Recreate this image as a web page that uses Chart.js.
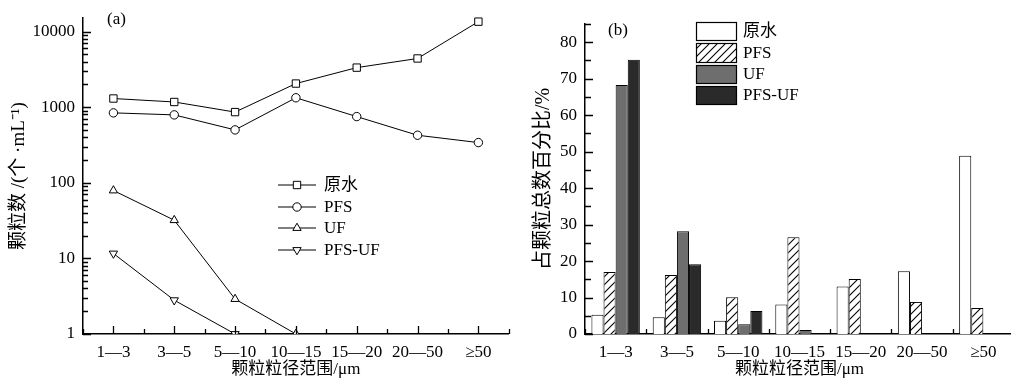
<!DOCTYPE html>
<html><head><meta charset="utf-8">
<script src="https://cdn.jsdelivr.net/npm/chart.js@4/dist/chart.umd.min.js"></script>
<style>
html,body{margin:0;padding:0;background:#fff;overflow:hidden;width:1011px;height:381px;}
#a{position:absolute;left:0;top:0;width:515px;height:381px;}
#b{position:absolute;left:505px;top:0;width:509px;height:381px;}
</style></head><body>
<div id="a"><canvas id="ca"></canvas></div>
<div id="b"><canvas id="cb"></canvas></div>
<script>
// ---- data ----
const categories = ['1—3','3—5','5—10','10—15','15—20','20—50','≥50'];
const seriesNames = ['原水','PFS','UF','PFS-UF'];
const countRaw   = [1300, 1170, 860, 2050, 3330, 4400, 13500];
const countPFS   = [840, 790, 500, 1330, 750, 425, 340];
const countUF    = [79, 32, 2.9, 1, null, null, null];
const countPFSUF = [11.6, 2.8, 1, null, null, null, null];
const logTicks   = [1, 10, 100, 1000, 10000];
const pctRaw   = [5.3, 4.6, 3.6, 8.1, 13.0, 17.2, 48.9];
const pctPFS   = [17.0, 16.2, 10.1, 26.5, 15.1, 8.8, 7.1];
const pctUF    = [68.3, 28.2, 2.7, 1.1, 0, 0, 0];
const pctPFSUF = [75.2, 19.1, 6.3, 0, 0, 0, 0];
const pctTicks = [0, 10, 20, 30, 40, 50, 60, 70, 80];

const FONT = "'Liberation Serif','Noto Sans CJK SC',serif";
Chart.defaults.font.family = FONT;
Chart.defaults.color = '#000';

function markPoint(ctx, style, r, rot, x, y) {
  ctx.save();
  ctx.fillStyle = '#fff'; ctx.strokeStyle = '#000'; ctx.lineWidth = 1;
  if (Chart.helpers && Chart.helpers.drawPoint) {
    Chart.helpers.drawPoint(ctx, {pointStyle: style, radius: r, rotation: rot, borderWidth: 1}, x, y);
  } else {
    ctx.beginPath(); ctx.arc(x, y, r, 0, Math.PI * 2); ctx.fill(); ctx.stroke();
  }
  ctx.restore();
}

const lineStyles = [
  {pointStyle: 'rect', pointRadius: 5.2, pointRotation: 0},
  {pointStyle: 'circle', pointRadius: 4.2, pointRotation: 0},
  {pointStyle: 'triangle', pointRadius: 4.8, pointRotation: 0},
  {pointStyle: 'triangle', pointRadius: 4.8, pointRotation: 180}
];
const countSeries = [countRaw, countPFS, countUF, countPFSUF];

const axesA = {
  id: 'axesA',
  afterDraw(chart) {
    const {ctx} = chart; const x = chart.scales.x, y = chart.scales.y;
    const ca = chart.chartArea;
    ctx.save(); ctx.strokeStyle = '#000'; ctx.lineWidth = 1.3;
    ctx.beginPath();
    for (let d = 0; d <= 4; d++) {
      for (let k = 1; k <= 9; k++) {
        const v = k * Math.pow(10, d);
        if (v > y.max) break;
        const py = Math.round(y.getPixelForValue(v)) + 0.5;
        const len = k === 1 ? 8 : 5;
        ctx.moveTo(ca.left, py); ctx.lineTo(ca.left + len, py);
      }
    }
    for (let i = 0; i < categories.length; i++) {
      const px = Math.round(x.getPixelForValue(i)) + 0.5;
      ctx.moveTo(px, ca.bottom); ctx.lineTo(px, ca.bottom - 8);
    }
    for (let i = 0; i <= categories.length; i++) {
      const px = Math.round(x.getPixelForValue(i - 0.5)) + 0.5;
      ctx.moveTo(px, ca.bottom); ctx.lineTo(px, ca.bottom - 5);
    }
    ctx.stroke();
    ctx.font = '17px ' + FONT; ctx.fillStyle = '#000'; ctx.textBaseline = 'middle';
    const rows = [185, 207, 228, 250];
    chart.data.datasets.forEach((ds, i) => {
      const ly = rows[i];
      ctx.lineWidth = 1; ctx.beginPath(); ctx.moveTo(278, ly); ctx.lineTo(316, ly); ctx.stroke();
      markPoint(ctx, ds.pointStyle, ds.pointRadius, ds.pointRotation, 297, ly);
      ctx.fillStyle = '#000';
      ctx.fillText(ds.label, 324, ly + 1);
    });
    ctx.font = '17px ' + FONT; ctx.fillText('(a)', 107, 20);
    ctx.restore();
  }
};

new Chart(document.getElementById('ca'), {
  type: 'line',
  data: {
    labels: categories,
    datasets: seriesNames.map((n, i) => ({
      label: n,
      data: countSeries[i],
      borderColor: '#000', borderWidth: 1,
      backgroundColor: '#fff', pointBackgroundColor: '#fff', pointBorderColor: '#000', pointBorderWidth: 1,
      pointStyle: lineStyles[i].pointStyle,
      pointRadius: lineStyles[i].pointRadius,
      pointRotation: lineStyles[i].pointRotation,
      clip: {left: 20, top: 20, right: 20, bottom: 0},
      spanGaps: false, tension: 0
    }))
  },
  options: {
    responsive: true, maintainAspectRatio: false, animation: false, devicePixelRatio: 1,
    layout: {padding: {left: 0, top: 15, right: 6, bottom: 0}},
    plugins: {legend: {display: false}, tooltip: {enabled: false}},
    scales: {
      x: {
        type: 'category', offset: true,
        grid: {display: false, drawTicks: false},
        border: {display: true, color: '#000', width: 1.5},
        ticks: {padding: 8, font: {size: 17}, color: '#000', maxRotation: 0, autoSkip: false},
        title: {display: true, text: '颗粒粒径范围/μm', font: {size: 17}, padding: {top: 0, bottom: 1}, color: '#000'},
        afterFit(s) { s.height = 47; }
      },
      y: {
        type: 'logarithmic', min: 1, max: 15000,
        grid: {display: false, drawTicks: false},
        border: {display: true, color: '#000', width: 1.5},
        ticks: {padding: 8, font: {size: 17}, color: '#000', callback: (v) => String(v)},
        afterBuildTicks(s) { s.ticks = logTicks.map(v => ({value: v})); },
        title: {display: true, text: '颗粒数 /(个 ·mL⁻¹)', font: {size: 19}, padding: {top: 8, bottom: 0}, color: '#000'},
        afterFit(s) { s.width = 83; }
      }
    }
  },
  plugins: [axesA]
});

// ---- chart b ----
function hatchPattern() {
  const n = 8;
  const c = document.createElement('canvas'); c.width = n; c.height = n;
  const g = c.getContext('2d');
  g.fillStyle = '#fff'; g.fillRect(0, 0, n, n);
  g.strokeStyle = '#000'; g.lineWidth = 1.1; g.beginPath();
  g.moveTo(0, n); g.lineTo(n, 0);
  g.moveTo(-1, 1); g.lineTo(1, -1);
  g.moveTo(n - 1, n + 1); g.lineTo(n + 1, n - 1);
  g.stroke();
  return g.createPattern(c, 'repeat');
}
const hatch = hatchPattern();
const barFills = ['#ffffff', hatch, '#6e6e6e', '#2a2a2a'];
const pctSeries = [pctRaw, pctPFS, pctUF, pctPFSUF];

const axesB = {
  id: 'axesB',
  afterDraw(chart) {
    const {ctx} = chart; const x = chart.scales.x, y = chart.scales.y;
    const ca = chart.chartArea;
    ctx.save(); ctx.strokeStyle = '#000'; ctx.lineWidth = 1.3;
    ctx.beginPath();
    for (let v = 0; v <= y.max + 0.01; v += 5) {
      const py = Math.round(y.getPixelForValue(v)) + 0.5;
      const len = (v % 10 === 0) ? 8 : 6;
      ctx.moveTo(ca.left, py); ctx.lineTo(ca.left + len, py);
    }
    for (let i = 0; i <= categories.length; i++) {
      const px = Math.round(x.getPixelForValue(i - 0.5)) + 0.5;
      ctx.moveTo(px, ca.bottom); ctx.lineTo(px, ca.bottom - 5);
    }
    ctx.stroke();
    const off = 505;
    const boxes = [[22, 40], [43, 62], [65, 83], [86, 104]];
    ctx.font = '17px ' + FONT; ctx.textBaseline = 'middle';
    chart.data.datasets.forEach((ds, i) => {
      const [t, b] = boxes[i];
      ctx.fillStyle = ds.backgroundColor;
      ctx.fillRect(696 - off, t, 40, b - t);
      ctx.lineWidth = 1.2; ctx.strokeStyle = '#000';
      ctx.strokeRect(696 - off + 0.5, t + 0.5, 40, b - t);
      ctx.fillStyle = '#000';
      ctx.fillText(ds.label, 743 - off, (t + b) / 2 + 1);
    });
    ctx.font = '17px ' + FONT; ctx.fillText('(b)', 608 - off, 31);
    ctx.restore();
  }
};

new Chart(document.getElementById('cb'), {
  type: 'bar',
  data: {
    labels: categories,
    datasets: seriesNames.map((n, i) => ({
      label: n,
      data: pctSeries[i],
      backgroundColor: barFills[i],
      borderColor: '#000', borderWidth: 1,
      barPercentage: 1.0, categoryPercentage: 0.79
    }))
  },
  options: {
    responsive: true, maintainAspectRatio: false, animation: false, devicePixelRatio: 1,
    layout: {padding: {left: 0, top: 24, right: 0, bottom: 0}},
    plugins: {legend: {display: false}, tooltip: {enabled: false}},
    scales: {
      x: {
        type: 'category', offset: true,
        grid: {display: false, drawTicks: false},
        border: {display: true, color: '#000', width: 1.5},
        ticks: {padding: 8, font: {size: 17}, color: '#000', maxRotation: 0, autoSkip: false},
        title: {display: true, text: '颗粒粒径范围/μm', font: {size: 17}, padding: {top: 0, bottom: 1}, color: '#000'},
        afterFit(s) { s.height = 47; }
      },
      y: {
        type: 'linear', min: 0, max: 85,
        grid: {display: false, drawTicks: false},
        border: {display: true, color: '#000', width: 1.5},
        ticks: {padding: 8, font: {size: 17}, color: '#000'},
        afterBuildTicks(s) { s.ticks = pctTicks.map(v => ({value: v})); },
        title: {display: true, text: '占颗粒总数百分比/%', font: {size: 20}, padding: {top: 27, bottom: 0}, color: '#000'},
        afterFit(s) { s.width = 80; }
      }
    }
  },
  plugins: [axesB]
});
</script>
</body></html>
